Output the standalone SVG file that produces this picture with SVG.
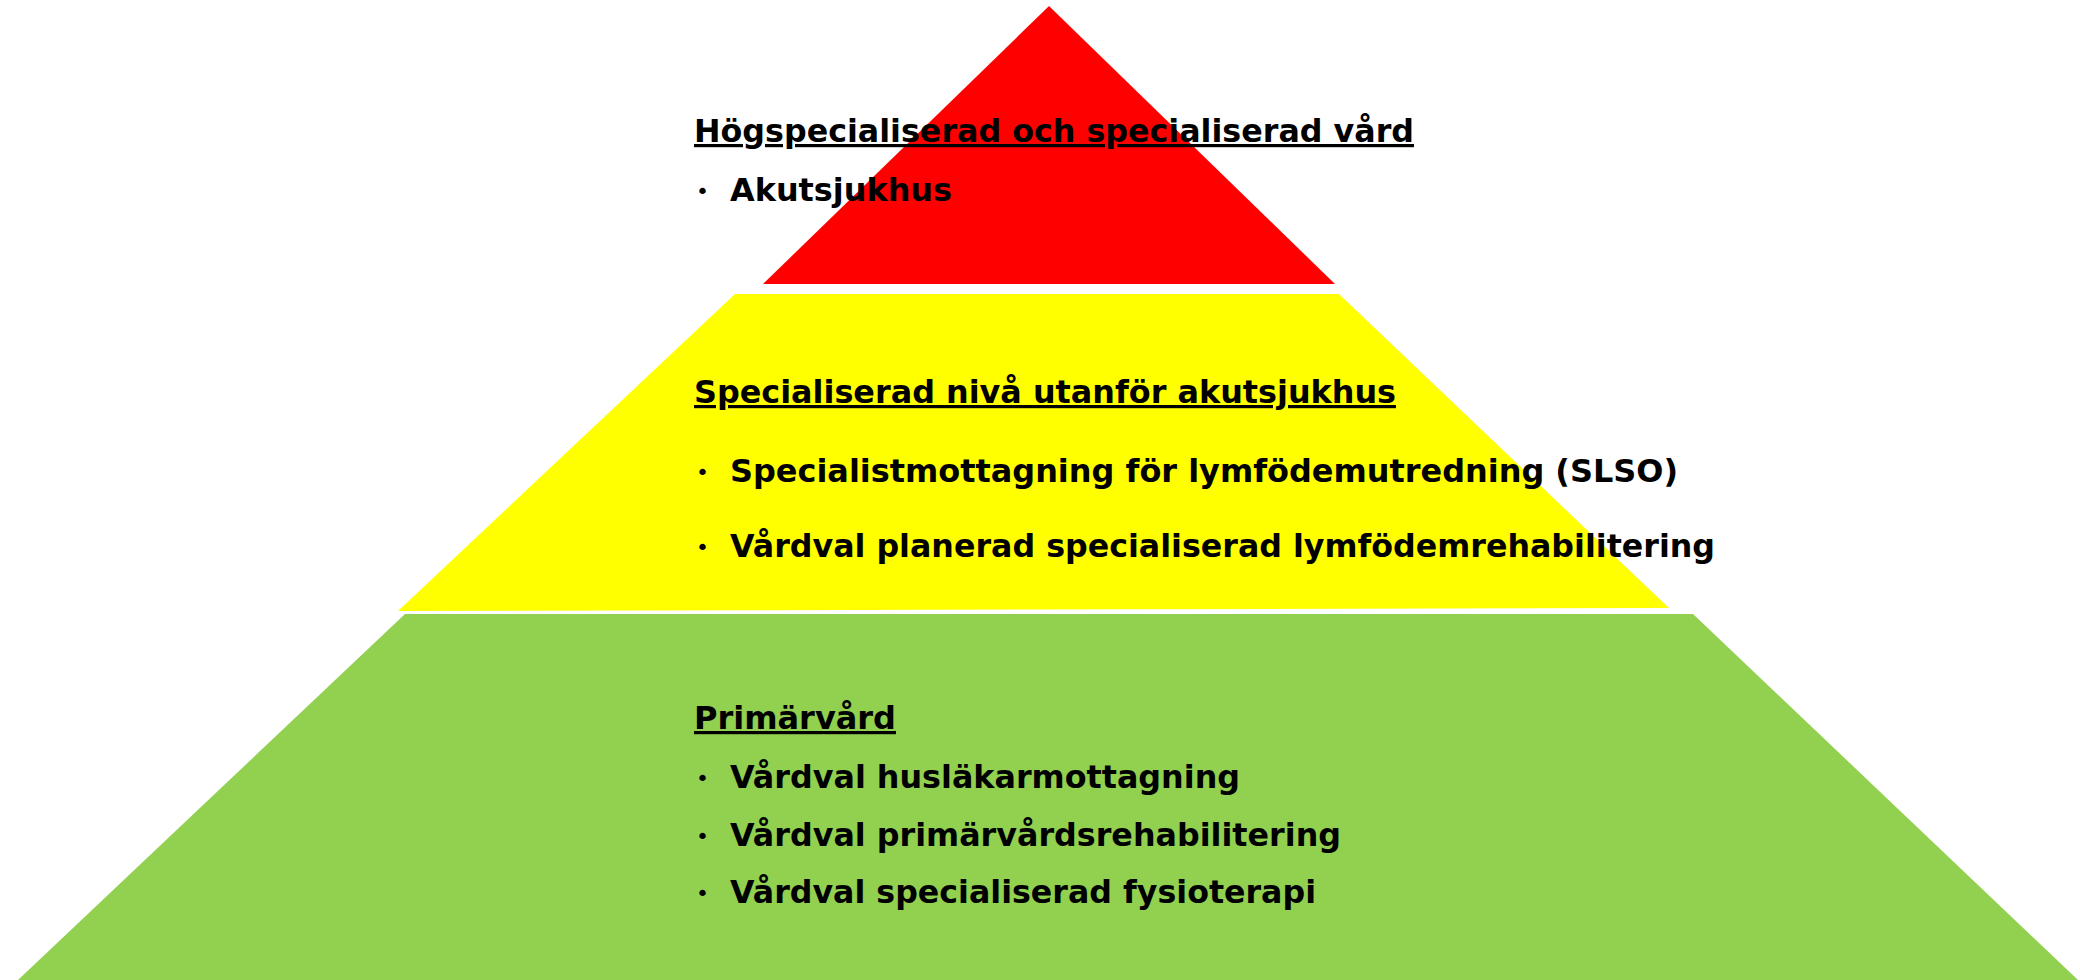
<svg xmlns="http://www.w3.org/2000/svg" width="2080" height="980" viewBox="0 0 2080 980">
<style>
.t{font-family:"DejaVu Sans","Verdana",sans-serif;font-weight:bold;font-size:32px;fill:#000}
.h{text-decoration:underline}
.b{font-family:"DejaVu Sans",sans-serif;font-size:22px;fill:#000}
</style>
<rect width="2080" height="980" fill="#fff"/>
<g id="tier-green">
<polygon points="405,614 1693,614 2078,980 18,980" fill="#92D050"/>
</g>
<g id="tier-yellow">
<polygon points="735,294 1339,294 1669,608 398,611" fill="#FFFF00"/>
</g>
<g id="tier-red">
<polygon points="1049,6 1335,284 763,284" fill="#FF0000"/>
</g>
<g id="labels-red">
<text class="t h" x="694" y="142" textLength="720" lengthAdjust="spacingAndGlyphs">Högspecialiserad och specialiserad vård</text>
<text class="b" x="696" y="199">•</text>
<text class="t" x="730" y="201" textLength="222" lengthAdjust="spacingAndGlyphs">Akutsjukhus</text>
</g>
<g id="labels-yellow">
<text class="t h" x="694" y="403" textLength="702" lengthAdjust="spacingAndGlyphs">Specialiserad nivå utanför akutsjukhus</text>
<text class="b" x="696" y="480">•</text>
<text class="t" x="730" y="482" textLength="948" lengthAdjust="spacingAndGlyphs">Specialistmottagning för lymfödemutredning (SLSO)</text>
<text class="b" x="696" y="555">•</text>
<text class="t" x="730" y="557" textLength="985" lengthAdjust="spacingAndGlyphs">Vårdval planerad specialiserad lymfödemrehabilitering</text>
</g>
<g id="labels-green">
<text class="t h" x="694" y="729" textLength="202" lengthAdjust="spacingAndGlyphs">Primärvård</text>
<text class="b" x="696" y="786">•</text>
<text class="t" x="730" y="788" textLength="510" lengthAdjust="spacingAndGlyphs">Vårdval husläkarmottagning</text>
<text class="b" x="696" y="844">•</text>
<text class="t" x="730" y="846" textLength="611" lengthAdjust="spacingAndGlyphs">Vårdval primärvårdsrehabilitering</text>
<text class="b" x="696" y="901">•</text>
<text class="t" x="730" y="903" textLength="586" lengthAdjust="spacingAndGlyphs">Vårdval specialiserad fysioterapi</text>
</g>
<g id="connectors"></g>
</svg>
